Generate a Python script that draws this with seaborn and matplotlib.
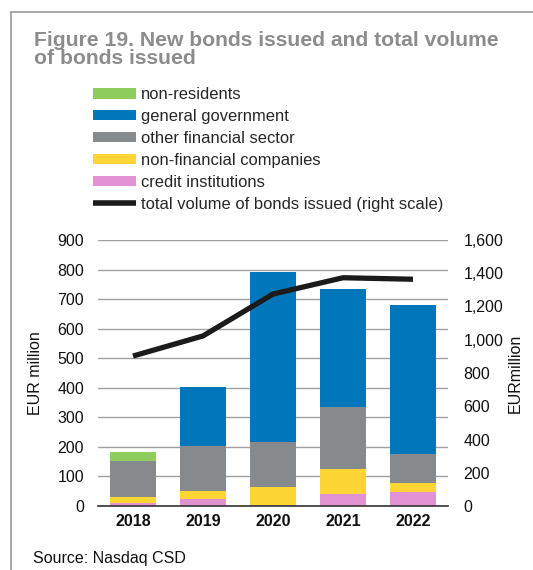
import numpy as np
import pandas as pd
import matplotlib
matplotlib.use("Agg")
import matplotlib.pyplot as plt
from matplotlib.patches import Patch
from matplotlib.lines import Line2D
import seaborn as sns

# Data (EUR million)
years = ["2018", "2019", "2020", "2021", "2022"]
credit_institutions = [11, 23, 4, 40, 49]
non_financial_companies = [20, 29, 59, 86, 30]
other_financial_sector = [122, 150, 154, 208, 98]
general_government = [0, 201, 575, 400, 502]
non_residents = [31, 0, 0, 0, 0]
total_volume = [902, 1023, 1275, 1373, 1364]

series_names = ["credit institutions", "non-financial companies",
                "other financial sector", "general government", "non-residents"]
series_values = [credit_institutions, non_financial_companies,
                 other_financial_sector, general_government, non_residents]
colors = {
    "non-residents": "#8dcc5d",
    "general government": "#0077bb",
    "other financial sector": "#878a8c",
    "non-financial companies": "#fdd535",
    "credit institutions": "#e092d3",
}
line_color = "#1b1b1b"

sns.set_theme(style="white")
plt.rcParams["font.family"] = ["Liberation Sans", "DejaVu Sans"]

W, H = 533, 570
fig = plt.figure(figsize=(W / 100, H / 100), dpi=100)

def fx(px):
    return px / W

def fy(py):
    return 1 - py / H

ax = fig.add_axes([fx(98), fy(506), fx(448) - fx(98), fy(240) - fy(506)])

# Stacked bars: draw cumulative sums from the top layer down
cum = np.cumsum(np.array(series_values), axis=0)
for i in range(len(series_names) - 1, -1, -1):
    df = pd.DataFrame({"year": years, "value": cum[i]})
    sns.barplot(data=df, x="year", y="value", color=colors[series_names[i]],
                width=0.67, saturation=1, ax=ax, zorder=2, linewidth=0)

fs = 11.5
ax.set_xlim(-0.5, 4.5)
ax.set_ylim(0, 900)
ax.set_yticks(range(0, 901, 100))
ax.yaxis.grid(True, color="#a0a0a0", linewidth=1.0, zorder=0)
ax.set_axisbelow(True)
ax.tick_params(axis="y", length=0, pad=10, labelsize=fs, colors="#111111")
ax.set_ylabel("EUR million", fontsize=fs, color="#111111", labelpad=10)
ax.set_xlabel("")
ax.set_xticks(range(len(years)))
ax.set_xticklabels(years, fontweight="bold", fontsize=fs, color="#111111")
ax.set_xticks(np.arange(-0.5, 4.6, 1), minor=True)
ax.tick_params(axis="x", which="major", length=0, pad=6)
ax.tick_params(axis="x", which="minor", direction="in", length=5,
               width=1.2, color="#333333")
for s in ["left", "right", "top"]:
    ax.spines[s].set_visible(False)
ax.spines["bottom"].set_color("#333333")
ax.spines["bottom"].set_linewidth(1.2)
ax.spines["bottom"].set_zorder(5)

# Total volume line on the right scale
ax2 = ax.twinx()
ldf = pd.DataFrame({"pos": np.arange(len(years)), "total": total_volume})
sns.lineplot(data=ldf, x="pos", y="total", ax=ax2, color=line_color,
             linewidth=3.8, solid_capstyle="butt", solid_joinstyle="round")
ax2.set_ylim(0, 1600)
ax2.set_xlim(-0.5, 4.5)
ax2.set_yticks(range(0, 1601, 200))
ax2.set_yticklabels([f"{v:,}" for v in range(0, 1601, 200)])
ax2.tick_params(axis="y", length=0, pad=11, labelsize=fs, colors="#111111")
ax2.set_ylabel("EURmillion", fontsize=fs, color="#111111", labelpad=3)
ax2.set_xlabel("")
for s in ax2.spines.values():
    s.set_visible(False)

# Title
fig.text(fx(34), fy(31), "Figure 19. New bonds issued and total volume\nof bonds issued",
         fontsize=15.2, fontweight="bold", color="#8c8c8c", va="top", ha="left",
         linespacing=0.9)

# Legend
handles = [Patch(facecolor=colors[n], edgecolor="none") for n in
           ["non-residents", "general government", "other financial sector",
            "non-financial companies", "credit institutions"]]
handles.append(Line2D([0], [0], color=line_color, linewidth=4, solid_capstyle="butt"))
labels = ["non-residents", "general government", "other financial sector",
          "non-financial companies", "credit institutions",
          "total volume of bonds issued (right scale)"]
lfs = 11.9
fig.legend(handles, labels, loc="upper left", bbox_to_anchor=(fx(93), fy(87)),
           frameon=False, fontsize=lfs, handlelength=2.6, handleheight=0.62,
           handletextpad=0.3, labelspacing=0.42, borderaxespad=0, borderpad=0)

# Source
fig.text(fx(33), fy(559), "Source: Nasdaq CSD", fontsize=fs, color="#111111",
         va="center", ha="left")

# Panel frame
fig.add_artist(Line2D([fx(11), fx(11)], [fy(12), 0], color="#9a9a9a", linewidth=1.2))
fig.add_artist(Line2D([fx(11), 1], [fy(12), fy(12)], color="#9a9a9a", linewidth=1.2))

fig.savefig("out.png", dpi=100)
